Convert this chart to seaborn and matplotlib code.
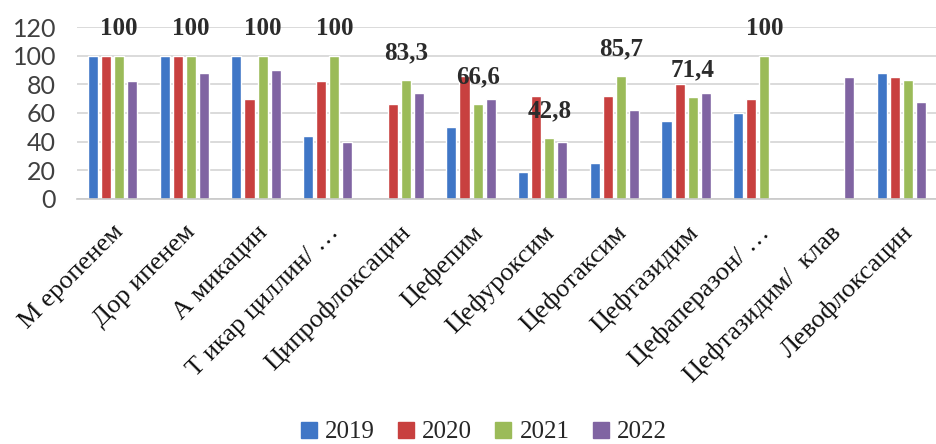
import numpy as np
import pandas as pd
import seaborn as sns
import matplotlib
matplotlib.use("Agg")
import matplotlib.pyplot as plt
from matplotlib.lines import Line2D

drugs = ["М еропенем", "Дор ипенем", "А микацин", "Т икар циллин/ …",
         "Ципрофлоксацин", "Цефепим", "Цефуроксим", "Цефотаксим",
         "Цефтазидим", "Цефаперазон/ …", "Цефтазидим/  клав", "Левофлоксацин"]
years = ["2019", "2020", "2021", "2022"]

v2019 = [100, 100, 100, 44, np.nan, 50, 19, 25, 54.5, 60, np.nan, 88]
v2020 = [100, 100, 70, 82, 66, 86, 72, 72, 80, 70, np.nan, 85]
v2021 = [100, 100, 100, 100, 83.3, 66.6, 42.8, 85.7, 71.4, 100, np.nan, 83.3]
v2022 = [82, 88, 90, 40, 74, 70, 40, 62, 74, np.nan, 85, 68]

colors = ["#3F76C6", "#C8403F", "#9BBB59", "#8064A2"]

df = pd.DataFrame({
    "drug": np.repeat(drugs, 4),
    "year": years * len(drugs),
    "value": np.column_stack([v2019, v2020, v2021, v2022]).ravel(),
})

sns.set_theme(style="white")
fig = plt.figure(figsize=(9.37, 4.44), dpi=100)
ax = fig.add_axes([0.082, 0.552, 0.918, 0.387])

sns.barplot(data=df, x="drug", y="value", hue="year", hue_order=years,
            order=drugs, palette=colors, width=0.73, gap=0.23,
            saturation=1, ax=ax, legend=False)

ax.set_ylim(0, 120)
ax.set_yticks(range(0, 121, 20))
ax.yaxis.grid(True, color="#d4d4d4", linewidth=1.2)
ax.set_axisbelow(True)
for s in ["left", "right", "top"]:
    ax.spines[s].set_visible(False)
ax.spines["bottom"].set_color("#c8c8c8")
ax.spines["bottom"].set_linewidth(1.2)
ax.tick_params(axis="both", length=0)
ax.set_xlabel("")
ax.set_ylabel("")
for lab in ax.get_yticklabels():
    lab.set_fontfamily("Lato")
    lab.set_fontsize(18)
    lab.set_color("#404040")
ax.tick_params(axis="y", pad=15)

ax.set_xticks(range(len(drugs)))
ax.set_xticklabels(drugs, rotation=45, ha="right", rotation_mode="anchor",
                   fontfamily="Liberation Serif", fontsize=19, color="#111111")
ax.tick_params(axis="x", pad=16)

# value labels above the 2021 bars
green_bars = ax.containers[2]
for bar, val in zip(green_bars, v2021):
    if np.isnan(val):
        continue
    txt = f"{val:g}".replace(".", ",")
    ax.annotate(txt, (bar.get_x() + bar.get_width() / 2, val),
                xytext=(0, 27), textcoords="offset pixels",
                ha="center", va="center", fontfamily="Liberation Serif",
                fontweight="bold", fontsize=18, color="#2b2b2b",
                annotation_clip=False)

handles = [Line2D([], [], marker="s", linestyle="", markersize=11,
                  markerfacecolor=c, markeredgecolor=c) for c in colors]
fig.legend(handles, years, loc="center", bbox_to_anchor=(0.516, 0.027),
           ncol=4, frameon=False, handlelength=0.7, handletextpad=0.3,
           columnspacing=0.9, prop={"family": "Liberation Serif", "size": 18})

fig.savefig("out.png", dpi=100)
